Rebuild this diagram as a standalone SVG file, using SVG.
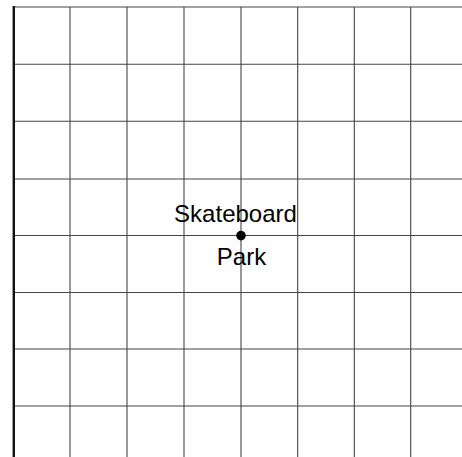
<svg xmlns="http://www.w3.org/2000/svg" width="462" height="457" viewBox="0 0 462 457">
<style>
.g{stroke:#444;stroke-width:1.1;fill:none}
.axis{stroke:#111;stroke-width:2.4;fill:none}
.lbl{font-family:"Liberation Sans",Arial,sans-serif;font-size:24px;fill:#000;text-anchor:middle}
</style>
<rect width="462" height="457" fill="#fff"/>
<g id="connectors">
<g id="h-lines">
<line class="g" x1="13" y1="7" x2="462" y2="7"/>
<line class="g" x1="13" y1="64.3" x2="462" y2="64.3"/>
<line class="g" x1="13" y1="121.3" x2="462" y2="121.3"/>
<line class="g" x1="13" y1="179" x2="462" y2="179"/>
<line class="g" x1="13" y1="235.5" x2="462" y2="235.5"/>
<line class="g" x1="13" y1="292.5" x2="462" y2="292.5"/>
<line class="g" x1="13" y1="349" x2="462" y2="349"/>
<line class="g" x1="13" y1="406" x2="462" y2="406"/>
</g>
<g id="v-lines">
<line class="g" x1="70" y1="7" x2="70" y2="457"/>
<line class="g" x1="127" y1="7" x2="127" y2="457"/>
<line class="g" x1="184" y1="7" x2="184" y2="457"/>
<line class="g" x1="241" y1="7" x2="241" y2="457"/>
<line class="g" x1="297.7" y1="7" x2="297.7" y2="457"/>
<line class="g" x1="354.3" y1="7" x2="354.3" y2="457"/>
<line class="g" x1="410.7" y1="7" x2="410.7" y2="457"/>
</g>
<line class="axis" x1="13.8" y1="6" x2="13.8" y2="457"/>
</g>
<g id="skateboard-park">
<circle cx="241" cy="235.6" r="4.8" fill="#000"/>
<text class="lbl" x="235.5" y="222">Skateboard</text>
<text class="lbl" x="241.5" y="265">Park</text>
</g>
</svg>
